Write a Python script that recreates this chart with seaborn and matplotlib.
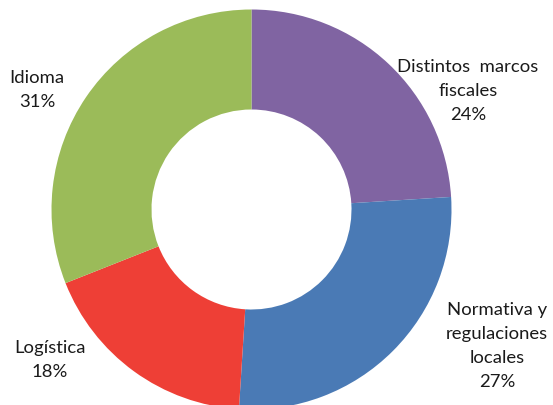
import matplotlib
matplotlib.use("Agg")
import matplotlib.pyplot as plt
import seaborn as sns

categories = ["Distintos  marcos\nfiscales", "Normativa y\nregulaciones\nlocales", "Logística", "Idioma"]
values = [24, 27, 18, 31]
colors = ["#8064A2", "#4A7AB5", "#EE3F36", "#9BBB59"]

sns.set_theme(style="white")
plt.rcParams['font.family'] = ['Lato', 'DejaVu Sans']

W, H = 553, 406
fig = plt.figure(figsize=(W / 100, H / 100), dpi=100)
ax = fig.add_axes([0, 0, 1, 1])

cx, cy, R = 251.5, 210.5, 200.0
ax.pie(values, colors=colors, startangle=90, counterclock=False, radius=1.0,
       wedgeprops=dict(width=0.5, linewidth=0))
ax.set_aspect('auto')
ax.set_xlim((0 - cx) / R, (W - cx) / R)
ax.set_ylim(-(H - cy) / R, cy / R)
ax.axis('off')

# label centers in pixel coordinates (from top-left)
label_pos = [(468, 91), (497, 346), (50, 360), (37, 90)]
for cat, v, (px, py) in zip(categories, values, label_pos):
    fig.text(px / W, 1 - py / H, f"{cat}\n{v}%", ha='center', va='center',
             fontsize=13.3, color='#1a1a1a', linespacing=1.6)

fig.savefig("out.png", dpi=100, facecolor='white')
